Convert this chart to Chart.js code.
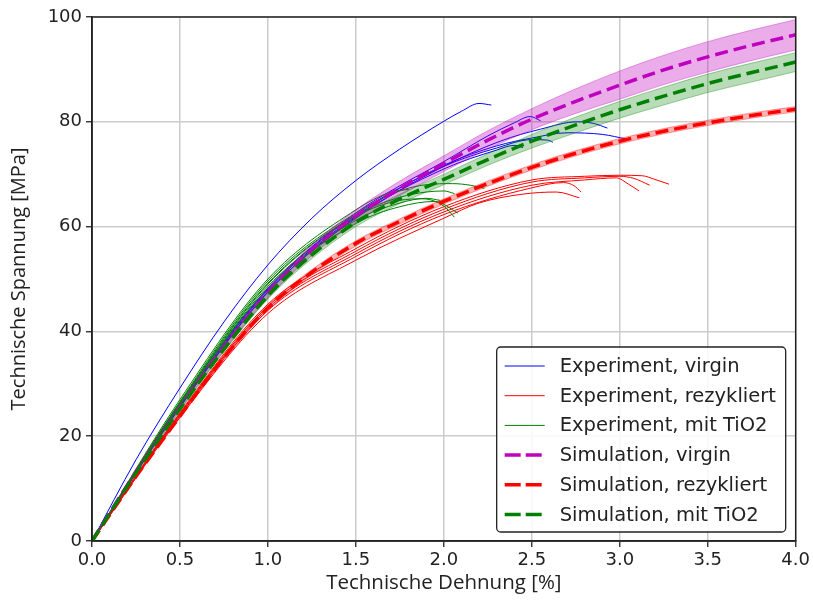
<!DOCTYPE html>
<html>
<head>
<meta charset="utf-8">
<script src="https://cdn.jsdelivr.net/npm/chart.js@4.4.1/dist/chart.umd.min.js"></script>
<style>
  html, body { margin: 0; padding: 0; background: #fff; }
  #wrap { width: 813px; height: 605px; }
</style>
</head>
<body>
<div id="wrap"><canvas id="chart" width="813" height="605"></canvas></div>
<script>
// Simulation curves (strain in %, stress in MPa), with upper/lower band
const simStrain = [0, 0.25, 0.5, 0.75, 1, 1.25, 1.5, 1.75, 2, 2.25, 2.5, 2.75, 3, 3.25, 3.5, 3.75, 4];

const simVirgin   = [0, 13.2, 25.5, 37.0, 47.3, 55.5, 62.0, 67.3, 72.0, 76.5, 80.5, 83.9, 87.0, 89.9, 92.4, 94.6, 96.6];
const simVirginLo = [0, 12.9, 25.0, 36.3, 46.4, 54.5, 60.8, 65.9, 70.5, 74.8, 78.5, 81.6, 84.3, 87.1, 89.5, 91.7, 93.7];
const simVirginHi = [0, 13.5, 26.0, 37.7, 48.2, 56.5, 63.2, 68.7, 73.5, 78.3, 82.5, 86.3, 89.7, 92.7, 95.3, 97.5, 99.5];

const simRecycled   = [0, 12.3, 23.8, 35.0, 44.5, 51.3, 56.8, 61.0, 64.8, 68.2, 71.3, 74.0, 76.3, 78.2, 79.8, 81.2, 82.4];
const simRecycledLo = [0, 12.1, 23.5, 34.6, 44.0, 50.8, 56.3, 60.5, 64.3, 67.7, 70.8, 73.5, 75.8, 77.7, 79.3, 80.7, 81.9];
const simRecycledHi = [0, 12.5, 24.1, 35.4, 45.0, 51.8, 57.3, 61.5, 65.3, 68.7, 71.8, 74.5, 76.8, 78.7, 80.3, 81.7, 82.9];

const simTiO2   = [0, 13.0, 25.2, 36.6, 46.8, 54.6, 60.8, 65.3, 69.0, 72.8, 76.3, 79.4, 82.3, 84.9, 87.3, 89.4, 91.4];
const simTiO2Lo = [0, 12.8, 24.8, 36.1, 46.2, 53.9, 60.0, 64.4, 68.0, 71.7, 75.0, 77.9, 80.7, 83.2, 85.6, 87.6, 89.6];
const simTiO2Hi = [0, 13.2, 25.6, 37.1, 47.4, 55.3, 61.6, 66.2, 70.0, 73.9, 77.6, 80.9, 83.9, 86.6, 89.1, 91.2, 93.2];

// Experiments, virgin
const expV1Strain = [0, 0.25, 0.5, 0.75, 1, 1.25, 1.5, 1.75, 2, 2.1, 2.2, 2.27];
const expV1Stress = [0, 15.5, 29.2, 41.8, 52.7, 61.6, 68.8, 74.8, 80.1, 82.0, 83.5, 83.2];
const expV2Strain = [0, 0.5, 1, 1.5, 1.75, 2, 2.25, 2.4, 2.49, 2.55];
const expV2Stress = [0, 26.4, 48.3, 62.6, 67.8, 72.4, 77.3, 79.8, 81.0, 80.2];
const expV3Strain = [0, 0.5, 1, 1.5, 2, 2.32, 2.55, 2.76, 2.85, 2.93];
const expV3Stress = [0, 25.6, 47.6, 61.6, 71.5, 76.3, 78.6, 80.0, 79.7, 78.8];
const expV4Strain = [0, 0.5, 1, 1.5, 2, 2.3, 2.5, 2.7, 2.9, 3.04];
const expV4Stress = [0, 25.8, 47.9, 62.0, 71.7, 75.4, 76.9, 77.9, 77.6, 76.7];
const expV5Strain = [0, 0.5, 1, 1.5, 2, 2.3, 2.5, 2.59, 2.62];
const expV5Stress = [0, 26.0, 48.1, 62.3, 71.5, 75.0, 76.6, 76.5, 76.1];
const expV6Strain = [0, 0.5, 1, 1.5, 2, 2.3, 2.4, 2.45];
const expV6Stress = [0, 25.5, 47.5, 61.8, 71.0, 74.6, 75.5, 75.1];

// Experiments, rezykliert
const expR1Strain = [0, 0.5, 1, 1.5, 2, 2.5, 2.8, 3, 3.13, 3.2, 3.28];
const expR1Stress = [0, 24.5, 45.2, 55.8, 63.8, 68.9, 69.6, 69.8, 69.7, 69.0, 68.1];
const expR2Strain = [0, 0.5, 1, 1.5, 2, 2.5, 2.8, 3, 3.08, 3.17];
const expR2Stress = [0, 24.3, 44.8, 55.3, 63.3, 68.5, 69.3, 69.6, 69.2, 67.9];
const expR3Strain = [0, 0.5, 1, 1.5, 2, 2.5, 2.8, 2.98, 3.05, 3.11];
const expR3Stress = [0, 24.1, 44.4, 54.8, 62.8, 67.9, 68.9, 69.3, 68.1, 66.8];
const expR4Strain = [0, 0.5, 1, 1.5, 2, 2.5, 2.68, 2.74, 2.78];
const expR4Stress = [0, 23.9, 44.0, 54.3, 62.3, 67.4, 68.4, 67.8, 66.6];
const expR5Strain = [0, 0.5, 1, 1.5, 2, 2.2, 2.45, 2.64, 2.77];
const expR5Stress = [0, 23.6, 43.4, 53.6, 61.6, 64.5, 66.2, 66.6, 65.5];

// Experiments, mit TiO2
const expG1Strain = [0, 0.5, 1, 1.5, 1.75, 1.9, 2.05, 2.15, 2.23];
const expG1Stress = [0, 26.6, 49.6, 62.6, 66.8, 68.0, 68.2, 67.9, 67.3];
const expG2Strain = [0, 0.5, 1, 1.5, 1.75, 1.9, 2, 2.06];
const expG2Stress = [0, 26.4, 49.2, 62.2, 65.6, 66.6, 66.8, 66.3];
const expG3Strain = [0, 0.5, 1, 1.5, 1.75, 1.9, 1.98];
const expG3Stress = [0, 26.0, 48.6, 61.2, 64.5, 65.4, 65.0];
const expG4Strain = [0, 0.5, 1, 1.5, 1.75, 1.88, 2, 2.06];
const expG4Stress = [0, 26.2, 49.0, 62.0, 65.0, 65.3, 63.9, 61.8];
const expG5Strain = [0, 0.5, 1, 1.5, 1.75, 1.95, 2.08];
const expG5Stress = [0, 25.8, 48.2, 60.6, 63.8, 64.8, 62.6];
const expG6Strain = [0, 0.5, 1, 1.5, 1.7, 1.8];
const expG6Stress = [0, 27.0, 50.0, 63.2, 66.6, 67.1];

const xTicks = [0, 0.5, 1, 1.5, 2, 2.5, 3, 3.5, 4];
const yTicks = [0, 20, 40, 60, 80, 100];

const BLUE = '#0000ff', RED = '#ff0000', GREEN = '#008000', MAGENTA = '#bf00bf';

function pts(xs, ys) {
    return xs.map((x, i) => ({ x: x, y: ys[i] }));
}

function expLine(xs, ys, color, order, label) {
    return {
        data: pts(xs, ys),
        borderColor: color,
        borderWidth: 1,
        pointRadius: 0,
        fill: false,
        cubicInterpolationMode: 'monotone',
        order: order,
        legendLabel: label
    };
}

function simDatasets(lo, mid, hi, color, fillColor, edgeColor, order, label) {
    return [
        { data: pts(simStrain, lo), borderColor: edgeColor, borderWidth: 1, pointRadius: 0,
          fill: false, cubicInterpolationMode: 'monotone', order: order + 1 },
        { data: pts(simStrain, hi), borderColor: edgeColor, borderWidth: 1, pointRadius: 0,
          fill: '-1', backgroundColor: fillColor, cubicInterpolationMode: 'monotone', order: order + 1 },
        { data: pts(simStrain, mid), borderColor: color, borderWidth: 3.5, borderDash: [13, 6],
          pointRadius: 0, fill: false, cubicInterpolationMode: 'monotone', order: order,
          legendLabel: label, legendDash: true }
    ];
}

const legendOrder = [
    'Experiment, virgin', 'Experiment, rezykliert', 'Experiment, mit TiO2',
    'Simulation, virgin', 'Simulation, rezykliert', 'Simulation, mit TiO2'
];

const datasets = [].concat(
    simDatasets(simTiO2Lo, simTiO2, simTiO2Hi, GREEN, 'rgba(0,128,0,0.28)', 'rgba(0,128,0,0.35)', 1, 'Simulation, mit TiO2'),
    simDatasets(simRecycledLo, simRecycled, simRecycledHi, RED, 'rgba(255,0,0,0.3)', 'rgba(255,0,0,0.35)', 3, 'Simulation, rezykliert'),
    simDatasets(simVirginLo, simVirgin, simVirginHi, MAGENTA, 'rgba(191,0,191,0.32)', 'rgba(191,0,191,0.35)', 5, 'Simulation, virgin'),
    [
        expLine(expG1Strain, expG1Stress, GREEN, 10, 'Experiment, mit TiO2'),
        expLine(expG2Strain, expG2Stress, GREEN, 10),
        expLine(expG3Strain, expG3Stress, GREEN, 10),
        expLine(expG4Strain, expG4Stress, GREEN, 10),
        expLine(expG5Strain, expG5Stress, GREEN, 10),
        expLine(expG6Strain, expG6Stress, GREEN, 10),
        expLine(expR1Strain, expR1Stress, RED, 11, 'Experiment, rezykliert'),
        expLine(expR2Strain, expR2Stress, RED, 11),
        expLine(expR3Strain, expR3Stress, RED, 11),
        expLine(expR4Strain, expR4Stress, RED, 11),
        expLine(expR5Strain, expR5Stress, RED, 11),
        expLine(expV1Strain, expV1Stress, BLUE, 12, 'Experiment, virgin'),
        expLine(expV2Strain, expV2Stress, BLUE, 12),
        expLine(expV3Strain, expV3Stress, BLUE, 12),
        expLine(expV4Strain, expV4Stress, BLUE, 12),
        expLine(expV5Strain, expV5Stress, BLUE, 12),
        expLine(expV6Strain, expV6Stress, BLUE, 12)
    ]
);

// Frame around the plot area (matplotlib-style spines)
const framePlugin = {
    id: 'frame',
    afterDatasetsDraw(chart) {
        const { ctx, chartArea: a } = chart;
        ctx.save();
        ctx.strokeStyle = '#222';
        ctx.lineWidth = 1.5;
        ctx.strokeRect(a.left, a.top, a.right - a.left, a.bottom - a.top);
        ctx.restore();
    }
};

// Boxed legend inside the lower right corner
const boxLegendPlugin = {
    id: 'boxLegend',
    afterDraw(chart) {
        const { ctx, chartArea: a } = chart;
        const items = legendOrder.map(l => chart.data.datasets.find(d => d.legendLabel === l));
        const w = 289, h = 185;
        const x = a.right - 10 - w, y = a.bottom - 9 - h;
        ctx.save();
        ctx.beginPath();
        ctx.roundRect(x, y, w, h, 4);
        ctx.fillStyle = 'rgba(255,255,255,0.85)';
        ctx.fill();
        ctx.strokeStyle = '#222';
        ctx.lineWidth = 1.3;
        ctx.stroke();
        ctx.font = '19.5px "DejaVu Sans"';
        ctx.textBaseline = 'middle';
        items.forEach((d, i) => {
            const cy = y + 19 + i * 29.7;
            ctx.beginPath();
            ctx.strokeStyle = d.borderColor;
            ctx.lineWidth = d.legendDash ? 3.5 : 1;
            ctx.setLineDash(d.legendDash ? [16, 5] : []);
            ctx.moveTo(x + 8, cy);
            ctx.lineTo(x + 48, cy);
            ctx.stroke();
            ctx.setLineDash([]);
            ctx.fillStyle = '#222';
            ctx.fillText(d.legendLabel, x + 63, cy + 1);
        });
        ctx.restore();
    }
};

new Chart(document.getElementById('chart'), {
    type: 'line',
    data: { datasets: datasets },
    options: {
        responsive: false,
        animation: false,
        layout: { padding: { left: 0, right: 17, top: 17, bottom: 0 } },
        plugins: {
            legend: { display: false },
            tooltip: { enabled: false }
        },
        scales: {
            x: {
                type: 'linear',
                min: 0,
                max: 4,
                afterBuildTicks: s => { s.ticks = xTicks.map(v => ({ value: v })); },
                afterFit: s => { s.height = 64; },
                ticks: {
                    callback: v => v.toFixed(1),
                    font: { family: 'DejaVu Sans', size: 18 },
                    color: '#222',
                    padding: 3,
                    maxRotation: 0
                },
                grid: { color: '#cccccc', lineWidth: 1.5, tickLength: 6, tickColor: '#222', tickWidth: 1.3 },
                border: { display: true, color: '#222', width: 1.5 },
                title: {
                    display: true,
                    text: 'Technische Dehnung [%]',
                    font: { family: 'Open Sans', size: 20.5 },
                    color: '#222',
                    padding: { top: 0, bottom: 10 }
                }
            },
            y: {
                type: 'linear',
                min: 0,
                max: 100,
                afterBuildTicks: s => { s.ticks = yTicks.map(v => ({ value: v })); },
                afterFit: s => { s.width = 92; },
                ticks: {
                    font: { family: 'DejaVu Sans', size: 18 },
                    color: '#222',
                    padding: 4
                },
                grid: { color: '#cccccc', lineWidth: 1.5, tickLength: 6, tickColor: '#222', tickWidth: 1.3 },
                border: { display: true, color: '#222', width: 1.5 },
                title: {
                    display: true,
                    text: 'Technische Spannung [MPa]',
                    font: { family: 'Open Sans', size: 20 },
                    color: '#222',
                    padding: { top: 7, bottom: 0 }
                }
            }
        }
    },
    plugins: [framePlugin, boxLegendPlugin]
});
</script>
</body>
</html>
